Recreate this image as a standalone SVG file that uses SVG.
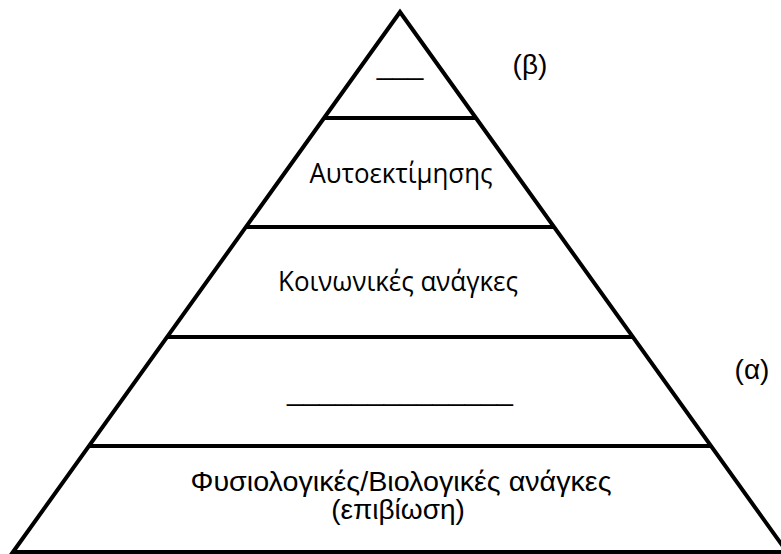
<svg xmlns="http://www.w3.org/2000/svg" width="781" height="554" viewBox="0 0 781 554">
<style>
.edge{stroke:#000;stroke-width:4;fill:none;stroke-linejoin:miter}
.t{font-family:"Liberation Sans",Arial,sans-serif;font-size:28px;fill:#000;text-anchor:middle}
.o{font-family:"Open Sans","Liberation Sans",sans-serif;font-size:27.5px;fill:#000;text-anchor:middle}
</style>
<rect width="781" height="554" fill="#fff"/>
<g id="connectors">
<path class="edge" d="M13,552 L400,12 L787,552 Z"/>
<line class="edge" x1="324" y1="118" x2="476" y2="118"/>
<line class="edge" x1="246" y1="227" x2="554" y2="227"/>
<line class="edge" x1="168" y1="337" x2="632" y2="337"/>
<line class="edge" x1="90" y1="446" x2="710" y2="446"/>
</g>
<g id="level5"><text class="t" x="400" y="74">___</text></g>
<g id="level4"><text class="o" x="401" y="183" textLength="183" lengthAdjust="spacingAndGlyphs">Αυτοεκτίμησης</text></g>
<g id="level3"><text class="o" x="398" y="291" textLength="240" lengthAdjust="spacingAndGlyphs">Κοινωνικές ανάγκες</text></g>
<g id="level2"><text class="t" x="400" y="400" textLength="226" lengthAdjust="spacingAndGlyphs">______________</text></g>
<g id="level1"><text class="t" x="401" y="491" textLength="421" lengthAdjust="spacingAndGlyphs">Φυσιολογικές/Βιολογικές ανάγκες</text><text class="t" x="398" y="519">(επιβίωση)</text></g>
<g id="label-b"><text class="t" x="530" y="74">(β)</text></g>
<g id="label-a"><text class="t" x="752" y="379">(α)</text></g>
</svg>
